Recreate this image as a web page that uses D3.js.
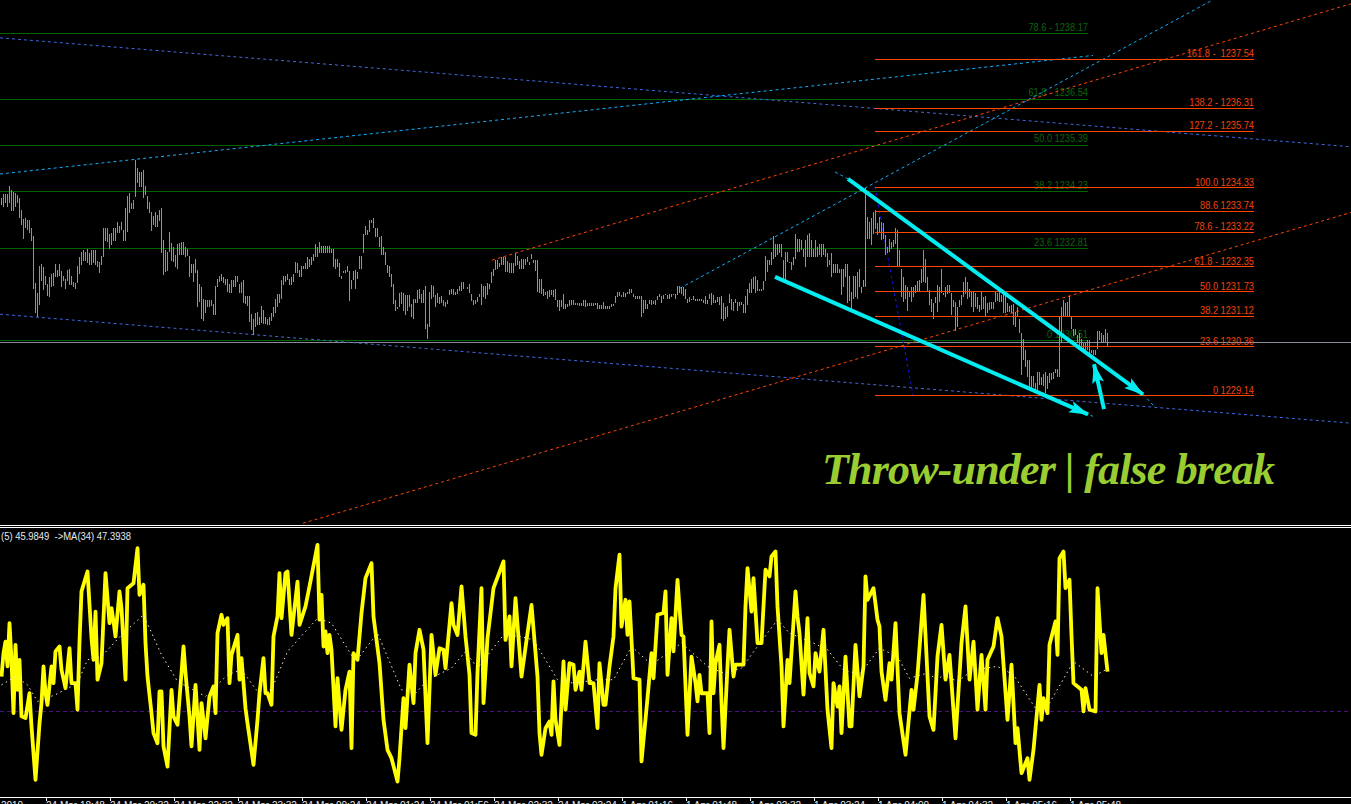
<!DOCTYPE html>
<html><head><meta charset="utf-8">
<style>html,body{margin:0;padding:0;background:#000;overflow:hidden}svg{display:block}</style>
<script src="https://cdn.jsdelivr.net/npm/d3@7/dist/d3.min.js"></script>
</head><body><div id="chart"></div>
<script>
// [high, low] per bar
const earlyBars=[
[1234.06,1233.9],[1234.17,1233.85],[1234.17,1233.94],[1234.17,1233.84],[1234.37,1233.94],[1234.27,1233.75],[1234.23,1233.75],[1234.2,1233.84],[1234.14,1233.95],[1234.06,1233.56],
[1233.77,1233.4],[1233.54,1233.05],[1233.56,1233.31],[1233.52,1233.27],[1233.52,1233.2],[1233.31,1233],[1233.12,1231.81],[1231.96,1231.2],[1231.71,1231.09],[1232.37,1231.4],
[1232.42,1232],[1232.35,1231.77],[1232.12,1231.9],[1231.92,1231.63],[1232.09,1231.6],[1232.17,1231.85],[1232.2,1231.87],[1232.42,1232.1],[1232.27,1232.09],[1232.42,1232.12],
[1232.25,1231.85],[1232.12,1232],[1232.06,1231.81],[1232.27,1232],[1232.31,1231.9],[1232.12,1231.9],[1231.98,1231.85],[1231.95,1231.81],[1232.37,1231.95],[1232.59,1232.17],
[1232.73,1232.4],[1232.77,1232.5],[1232.73,1232.5],[1232.81,1232.44],[1232.69,1232.4],[1232.77,1232.4],[1232.77,1232.44],[1232.77,1232.4],[1232.5,1232.34],[1232.48,1232.2],
[1232.62,1232.4],[1233.32,1232.6],[1233.32,1233],[1233.32,1232.98],[1233.17,1232.8],[1233.19,1232.9],[1233.32,1233],[1233.32,1233],[1233.48,1233.19],[1233.37,1233.19],
[1233.48,1233.27],[1233.27,1233],[1233.81,1233],[1234.12,1233.23],[1234.2,1233.69],[1233.94,1233.79],[1234.02,1233.8],[1235.02,1234.1],[1234.81,1234.44],[1234.71,1234.35],
[1234.73,1234.35],[1234.77,1234.06],[1234.37,1234.14],[1234.12,1233.79],[1233.98,1233.69],[1233.73,1233.25],[1233.62,1233.4],[1233.73,1233.34],[1233.65,1233.35],[1233.77,1233.5],
[1233.81,1232.69],[1233.02,1232.15],[1232.77,1232.23],[1232.73,1232.25],[1233.23,1232.73],[1232.96,1232.5],[1232.85,1232.48],[1232.65,1232.35],[1232.92,1232.29],[1232.94,1232.65],
[1232.98,1232.65],[1232.97,1232.65],[1232.85,1232.6],[1232.81,1232.62],[1232.62,1232.09],[1232.42,1232.19],[1232.42,1231.98],[1232.56,1232.19],[1232.27,1231.35],[1231.92,1231.48],
[1231.85,1231.04],[1231.56,1231],[1231.52,1231.2],[1231.52,1231.35],[1231.52,1231.35],[1231.52,1231.37],[1231.42,1231.15],[1231.87,1231.15],[1232.06,1231.85],[1232.12,1231.98],
[1232.17,1232],[1232.1,1231.94],[1232.06,1231.9],[1232.06,1231.73],[1231.92,1231.69],[1232.02,1231.7],[1232.02,1231.85],[1232.12,1231.84],[1232.12,1231.98],[1231.92,1231.7],
[1231.98,1231.69],[1232.02,1231.45],[1231.62,1231.42],[1231.62,1231.37],[1231.62,1230.98],[1231.17,1230.77],[1231.06,1230.65],[1231.19,1230.85],[1231.23,1230.9],[1231.1,1230.9],
[1231.37,1230.94],[1231.27,1230.92],[1231.1,1230.92],[1231.06,1230.9],[1231.1,1230.9],[1231.2,1231],[1231.34,1231.1],[1231.56,1231.19],[1231.67,1231.35],[1231.67,1231.44],
[1232.02,1231.54],[1232.12,1231.9],[1232.12,1231.98],[1232.17,1232.02],[1232.06,1231.9],[1232.09,1231.9],[1232.17,1231.98],[1232.47,1232.19],[1232.44,1232.2],[1232.27,1232.09],
[1232.37,1232.09],[1232.37,1232.29],[1232.44,1232.29],[1232.59,1232.31],[1232.56,1232.35],[1232.59,1232.4],[1232.67,1232.5],[1232.92,1232.6],[1232.85,1232.59],[1232.97,1232.69],
[1232.87,1232.69],[1232.87,1232.69],[1232.87,1232.69],[1232.87,1232.69],[1232.87,1232.69],[1232.81,1232.69],[1232.81,1232.34],[1232.56,1232.31],[1232.56,1232.35],[1232.45,1232.09],
[1232.12,1232.04],[1232.25,1232.19],[1232.27,1232.19],[1232.37,1232.23],[1232.25,1231.5],[1232.02,1231.79],[1232.25,1232.02],[1232.27,1231.81],[1232.23,1232.04],[1232.62,1232.29],
[1232.62,1232.29],[1233.17,1232.69],[1233.37,1233.15],[1233.27,1233.15],[1233.52,1233.23],[1233.52,1233.44],[1233.56,1233.31],[1233.31,1233.1],[1233.31,1233.1],[1233.09,1232.85],
[1233.12,1232.65],[1232.85,1232.65],[1232.73,1232.4],[1232.4,1232.19],[1232.37,1232.09],[1232.17,1231.85],[1231.92,1231.42],[1231.52,1231.25],[1231.35,1231.29],[1231.71,1231.35],
[1231.73,1231.42],[1231.71,1231.25],[1231.65,1231.15],[1231.65,1231.25],[1231.65,1231.35],[1231.42,1231.1],[1231.56,1231.06],[1231.56,1231.45],[1231.77,1231.45],[1231.79,1231.56],
[1231.67,1231.45],[1231.77,1231.45],[1231.87,1230.81],[1230.92,1230.54],[1231.73,1230.85],[1231.91,1231.56],[1231.87,1231.6],[1231.65,1231.34],[1231.69,1231.44],[1231.6,1231.42],
[1231.62,1231.45],[1231.52,1231.37],[1231.48,1231.35],[1231.52,1231.42],[1231.77,1231.65]];
const middleBars=[
[1231.81,1231.67],[1231.81,1231.65],[1231.73,1231.65],[1231.79,1231.67],[1231.87,1231.75],[1231.97,1231.75],[1231.97,1231.81],[1231.81,1231.79],[1231.85,1231.81],[1231.92,1231.7],
[1231.67,1231.5],[1231.52,1231.39],[1231.52,1231.42],[1231.59,1231.48],[1231.67,1231.59],[1231.92,1231.39],[1231.87,1231.6],[1231.87,1231.56],[1231.94,1231.65],[1231.92,1231.8],
[1232.23,1231.94],[1232.31,1232.12],[1232.52,1232.27],[1232.52,1232.31],[1232.45,1232.34],[1232.59,1232.39],[1232.6,1232.39],[1232.6,1232.23],[1232.5,1232.23],[1232.44,1232.2],
[1232.44,1232.2],[1232.44,1232.2],[1232.69,1232.37],[1232.62,1232.39],[1232.5,1232.31],[1232.54,1232.29],[1232.54,1232.31],[1232.54,1232.39],[1232.59,1232.48],[1232.48,1232.39],
[1232.67,1232.54],[1232.52,1232.45],[1232.52,1232.25],[1232.52,1231.73],[1232.06,1231.7],[1232.04,1231.67],[1231.81,1231.62],[1231.73,1231.65],[1231.75,1231.55],[1231.77,1231.6],
[1231.77,1231.65],[1231.77,1231.59],[1231.81,1231.52],[1231.52,1231.35],[1231.52,1231.25],[1231.52,1231.34],[1231.67,1231.31],[1231.42,1231.29],[1231.42,1231.35],[1231.52,1231.37],
[1231.52,1231.39],[1231.52,1231.39],[1231.45,1231.39],[1231.45,1231.39],[1231.44,1231.37],[1231.44,1231.37],[1231.52,1231.37],[1231.52,1231.35],[1231.45,1231.37],[1231.45,1231.37],
[1231.45,1231.37],[1231.45,1231.37],[1231.45,1231.39],[1231.45,1231.29],[1231.39,1231.31],[1231.39,1231.31],[1231.48,1231.29],[1231.37,1231.31],[1231.37,1231.31],[1231.37,1231.31],
[1231.42,1231.34],[1231.42,1231.37],[1231.62,1231.44],[1231.73,1231.59],[1231.73,1231.62],[1231.65,1231.59],[1231.73,1231.6],[1231.7,1231.6],[1231.73,1231.67],[1231.81,1231.67],
[1231.81,1231.69],[1231.67,1231.59],[1231.62,1231.54],[1231.62,1231.54],[1231.62,1231.54],[1231.62,1231.1],[1231.52,1231.2],[1231.52,1231.31],[1231.42,1231.29],[1231.52,1231.42],
[1231.52,1231.39],[1231.5,1231.42],[1231.52,1231.39],[1231.62,1231.52],[1231.67,1231.59],[1231.62,1231.44],[1231.65,1231.54],[1231.67,1231.65],[1231.65,1231.54],[1231.67,1231.56],
[1231.67,1231.59],[1231.67,1231.65],[1231.67,1231.54],[1231.87,1231.65],[1231.87,1231.7],[1231.84,1231.67],[1231.85,1231.62],[1231.81,1231.56],[1231.56,1231.44],[1231.6,1231.48],
[1231.56,1231.52],[1231.62,1231.52],[1231.56,1231.5],[1231.54,1231.5],[1231.54,1231.49],[1231.54,1231.49],[1231.52,1231.45],[1231.62,1231.42],[1231.52,1231.42],[1231.67,1231.54],
[1231.7,1231.39],[1231.65,1231.44],[1231.52,1231.45],[1231.59,1231.48],[1231.6,1231.39],[1231.62,1231.06],[1231.44,1231],[1231.34,1231.06],[1231.37,1231.1],[1231.67,1231.44],
[1231.56,1231.27],[1231.48,1231.25],[1231.56,1231.44],[1231.48,1231.25],[1231.48,1231.37],[1231.48,1231.39],[1231.42,1231.2],[1231.62,1231.2],[1231.81,1231.39],[1231.94,1231.69],
[1232.04,1231.7],[1232.1,1231.81],[1232.12,1231.7],[1232.02,1231.75],[1231.81,1231.75],[1231.81,1231.75],[1232,1231.77],[1232.62,1232],[1232.52,1232.23],[1232.52,1232.39],
[1232.73,1232.39],[1233.12,1232.56],[1232.92,1232.6],[1232.92,1232.65],[1232.92,1232.69],[1232.92,1232.6],[1232.52,1232.02],[1232.73,1232.02],[1232.73,1232.48],[1232.48,1232.44],
[1232.48,1232.27],[1232.59,1232.39],[1233.17,1232.56],[1233.06,1232.73],[1233.06,1232.73],[1233.02,1232.77],[1232.81,1232.6],[1233.02,1232.35],[1233.15,1232.6],[1233.2,1232.59],
[1233.02,1232.6],[1232.81,1232.6],[1233.02,1232.6],[1232.85,1232.6],[1232.92,1232.65],[1232.92,1232.59],[1232.92,1232.65],[1232.81,1232.6],[1232.69,1232.35],[1232.52,1232.39],
[1232.69,1232.1],[1232.42,1232.19],[1232.42,1232.19],[1232.42,1232.19],[1232.29,1232.19],[1232.29,1231.65],[1232.31,1231.85],[1232.42,1232.09],[1232.42,1231.44],[1232.12,1231.5],
[1231.73,1231.31],[1232.12,1231.56],[1232.12,1231.6],[1232.23,1231.56],[1232.31,1231.85],[1231.85,1231.7],[1232.02,1231.85]];
const lateBars=[
[1234.31,1231.85],[1233.6,1233.06],[1233.48,1233.06],[1233.56,1232.9],[1233.73,1233.17],[1233.77,1233.29],[1233.44,1233.15],[1233.6,1233.19],[1233.48,1233.02],[1233.44,1233.06],
[1233.15,1232.64],[1232.85,1232.69],[1233.06,1232.73],[1232.98,1232.81],[1233.02,1232.85],[1233.31,1232.92],[1233.27,1232.35],[1232.77,1232.35],[1232.31,1231.6],[1232.1,1231.48],
[1231.9,1231.56],[1231.85,1231.25],[1231.73,1231.6],[1231.84,1231.48],[1231.84,1231.6],[1231.9,1231.69],[1232,1231.73],[1232.02,1231.73],[1232.31,1231.94],[1232.77,1231.98],
[1232.56,1231.94],[1232.1,1231.73],[1231.77,1231.4],[1231.56,1231.23],[1231.44,1231.06],[1231.6,1231.44],[1231.9,1231.23],[1231.85,1231.48],[1232.31,1231.7],[1231.7,1231.65],
[1231.84,1231.6],[1231.9,1231.67],[1231.9,1231.69],[1231.7,1231.15],[1231.52,1231.35],[1231.48,1230.75],[1231.35,1230.85],[1231.52,1231.35],[1231.65,1231.4],[1231.98,1231.6],
[1232.1,1231.67],[1231.98,1231.56],[1231.81,1231.6],[1231.73,1231.35],[1231.73,1231.23],[1231.69,1231.35],[1231.6,1231.31],[1231.39,1231.23],[1231.73,1231.27],[1231.6,1231.31],
[1231.62,1231.1],[1231.44,1231.19],[1231.48,1231.27],[1231.48,1231.29],[1231.48,1231.29],[1231.73,1231.48],[1231.7,1231.5],[1231.73,1231.48],[1231.65,1231.48],[1231.69,1231.19],
[1231.62,1231.2],[1231.44,1231.23],[1231.37,1231.23],[1231.39,1231.19],[1231.42,1230.9],[1231.23,1230.85],[1231.35,1231.1],[1231.06,1230.69],[1230.69,1229.65],[1230.56,1230.02],
[1230.27,1229.84],[1230.02,1229.6],[1230.02,1229.35],[1229.62,1229.27],[1229.62,1229.35],[1229.44,1229.27],[1229.73,1229.2],[1229.73,1229.4],[1229.6,1229.4],[1229.67,1229.37],
[1229.73,1229.19],[1229.62,1229.31],[1229.69,1229.44],[1229.71,1229.52],[1229.73,1229.56],[1229.81,1229.7],[1229.81,1229.6],[1231.1,1229.6],[1231.35,1230.44],[1231.52,1231.1],
[1231.44,1231.1],[1231.48,1231.1],[1231.62,1231.1],[1231.1,1230.81],[1230.81,1230.62],[1230.81,1230.65],[1230.65,1230.44],[1230.69,1230.35],[1230.56,1230.35],[1230.45,1230.23],
[1230.44,1230.27],[1230.52,1230.27],[1230.52,1230.17],[1230.27,1230.19],[1230.27,1230.15],[1230.27,1230.15],[1230.75,1230.31],[1230.75,1230.52],[1230.7,1230.48],[1230.65,1230.44],
[1230.81,1230.44],[1230.69,1230.37]];
// [bar index, value]
const rsiPoints=[
[0,44.1],[1,53.6],[2,58.3],[3,48.2],[4,65.8],[5,50.9],[6,29.2],[7,57],[8,38.7],[9,50.9],[10,27.9],[12,27.2],[14,37.3],[15,23.8],[17,2.1],[19,25.1],[20,33.3],[21,48.2],[22,37.3],[23,32.6],[25,48.2],[26,41.4],[27,54.3],[29,56.3],[30,46.8],[32,39.4],[34,55.6],[35,41.4],[37,41.4],[38,30.6],[39,58.3],[40,78.7],[43,86.8],[45,59.7],[46,50.9],[47,70.5],[48,42.8],[50,49.5],[52,86.1],[54,65.8],[55,71.9],[56,66.5],[57,60.4],[59,78.7],[60,71.9],[62,42.8],[63,80],[66,82],[68,96.3],[69,77.3],[71,81.4],[72,57.7],[73,44.1],[75,29.2],[76,21.1],[78,17],[79,38],[80,38],[81,15.7],[83,7.5],[85,38.7],[86,27.9],[88,24.5],[90,45.5],[91,56.3],[92,45.5],[94,27.9],[95,15.7],[97,40.7],[99,14.3],[100,33.3],[102,19],[104,36],[106,40.1],[107,29.2],[108,61.7],[110,69.2],[111,65.1],[113,67.8],[114,41.4],[115,52.9],[118,61],[119,42.8],[120,51.6],[122,31.2],[123,25.1],[126,8.2],[128,26.5],[129,37.3],[131,51.6],[132,37.3],[133,37.3],[135,32.6],[136,60.4],[138,68.5],[139,86.1],[140,67.8],[142,86.1],[143,86.8],[145,61],[148,82.7],[149,65.1],[152,72.6],[154,80.7],[158,97.6],[159,67.2],[160,77.3],[161,56.3],[162,62.4],[163,53.6],[164,61],[165,55],[167,23.8],[168,43.4],[170,22.4],[172,38.7],[174,46.1],[175,15],[176,53.6],[178,50.9],[180,69.9],[182,84.1],[185,90.2],[186,68.5],[189,49.5],[191,26.5],[193,14.3],[195,10.9],[198,1.4],[199,10.9],[201,35.3],[202,23.1],[204,48.9],[206,33.3],[207,53.6],[209,63.1],[211,55],[213,17],[215,61],[217,44.8],[219,55.6],[221,55],[222,47.5],[225,73.9],
[226,65.1],[228,61],[230,80.7],[232,60.4],[234,44.8],[235,21.1],[237,20.4],[238,45.5],[240,80],[241,33.3],[243,59.7],[246,80],[251,90.9],[252,59],[254,68.5],[255,48.2],[257,76],[260,44.1],[263,61.7],[265,73.2],[268,44.1],[269,21.1],[270,12.3],[272,23.1],[274,25.8],[275,20.4],[276,42.1],[277,26.5],[279,16.3],[281,50.2],[282,30.6],[284,49.5],[286,48.9],[287,38.7],[289,46.1],[290,38.7],[292,58.3],[294,41.4],[296,41.4],[298,23.1],[299,49.5],[301,32.6],[302,32.6],[304,48.2],[306,60.4],[307,80],[309,93.6],[310,64.4],[312,75.3],[313,61],[314,74.6],[316,43.4],[319,42.8],[320,9.6],[323,35.3],[325,53.6],[326,43.4],[328,69.2],[331,69.9],[332,78.7],[333,44.8],[335,67.8],[336,54.3],[338,83.4],[340,61],[341,60.4],[343,20.4],[345,52.2],[347,41.4],[348,34],[349,44.8],[350,37.3],[353,37.3],[354,21.1],[355,66.5],[356,37.3],[357,49.5],[359,57],[360,34],[361,15],[363,48.2],[364,63.1],[366,44.1],[367,48.9],[371,48.9],[372,72.6],[373,88.2],[375,70.5],[376,84.1],[378,57.7],[380,57.7],[382,87.5],[384,84.8],[385,92.9],[387,94.9],[388,72.6],[390,48.2],[391,23.8],[393,50.9],[394,41.4],
[397,78.7],[398,68.5],[399,61.7],[401,36.7],[403,67.8],[404,45.5],[406,40.1],[407,53.6],[409,46.1],[411,63.1],[413,30.6],[415,15],[416,41.4],[418,31.9],[419,40.1],[420,21.1],[422,52.2],[424,23.8],[425,23.8],[427,57],[429,36],[431,48.2],[432,84.8],[433,75.3],[436,80],[438,67.2],[439,64.4],[440,46.1],[442,34.6],[444,49.5],[445,42.8],[447,65.8],[449,29.2],[452,12.3],[455,38.7],[456,30.6],[458,44.8],[461,77.3],[464,27.9],[466,22.4],[468,52.2],[470,65.1],[472,42.8],[474,52.9],[477,19],[480,57.7],[482,72.6],[484,42.8],[486,58.3],[488,30.6],[490,52.9],[492,30.6],[493,50.9],[496,56.3],[498,67.8],[500,60.4],[503,26.5],[505,48.9],[507,17],[508,23.1],[510,4.8],[513,10.9],[514,2.1],[516,14.3],[519,40.7],[520,26.5],[521,35.3],[523,29.2],[524,57],[527,66.5],[528,52.9],[529,92.2],[531,94.9],[532,80],[534,83.4],[535,61],[536,41.4],[540,38.7],[541,29.9],[542,39.4],[544,30.6],[547,29.9],[548,80],[550,53.6],[551,61],[553,46.1]];
const maPoints=[
[0,40.7],[7,44.1],[13,40.7],[18,34],[27,36.7],[38,41.4],[43,50.9],[50,52.2],[60,61],[71,69.2],[80,52.9],[88,42.1],[102,36],[113,44.8],[120,46.8],[128,38],[135,38.7],[143,54.3],[158,67.8],[165,65.8],[177,50.2],[188,61.7],[200,38.7],[207,37.3],[213,42.8],[225,47.5],
[232,54.3],[238,47.5],[251,61],[259,60.4],[266,59],[278,42.8],[286,41.4],[298,42.8],[306,42.8],[315,56.3],[325,48.9],[340,57.7],[353,48.2],[361,45.5],[370,47.5],[378,56.3],[388,67.2],
[394,61.7],[406,57.7],[413,55],[421,46.8],[429,44.8],[439,55.6],[448,52.2],[454,43.4],[463,45.5],[468,42.8],[471,44.8],[478,42.1],[486,46.8],[498,48.2],[506,44.8],[518,29.9],[524,33.3],[536,50.2],[546,44.1],[552,46.8]];
const greenFibLevels=[1238.17,1236.54,1235.39,1234.23,1232.81,1230.51];
const greenFibLabels=["78.6 - 1238.17","61.8 - 1236.54","50.0 1235.39","38.2 1234.23","23.6 1232.81","0 1230.51"];
const redFibLevels=[1237.54,1236.31,1235.74,1234.33,1233.74,1233.22,1232.35,1231.73,1231.12,1230.36,1229.14];
const redFibLabels=["161.8 -  1237.54","138.2 - 1236.31","127.2 - 1235.74","100.0 1234.33","88.6 1233.74","78.6 - 1233.22","61.8 - 1232.35","50.0 1231.73","38.2 1231.12","23.6 1230.36","0 1229.14"];
const currentPrice=1230.465;
const rsiLevel=30;
// trend lines: [bar0, price0, bar1, price1]
const royalLines=[[-0.75,1238.07,674.75,1235.35],[-0.75,1231.17,674.75,1228.45]];
const skyLines=[[-0.75,1234.67,545.75,1237.63],[339.25,1231.82,605.75,1239.02],[570.75,1229.17,576.75,1228.85],[541.75,1228.7,545.75,1228.62],[416.75,1234.72,423.25,1234.55]];
const redLines=[[150.75,1225.95,674.75,1233.71],[245.25,1232.52,674.75,1238.92]];
const navyLines=[[436.75,1234.35,455.75,1229.15]];
const arrowLines=[[423.25,1234.55,570.75,1229.17],[386.75,1232.1,543.25,1228.67],[551.25,1228.8,546.25,1229.92]];
const timeTickBars=[22,54,86,118,150,182,214,246,278,310,342,374,406,438,470,502,534];
const timeTickLabels=["24 Mar 18:48","24 Mar 20:32","24 Mar 22:32","24 Mar 23:32","24 Mar 00:24","24 Mar 01:24","24 Mar 01:56","24 Mar 02:32","24 Mar 03:24","1 Apr 01:16","1 Apr 01:48","1 Apr 02:32","1 Apr 03:24","1 Apr 04:00","1 Apr 04:32","1 Apr 05:16","1 Apr 05:48"];

const W=1351,H=804;
const svg=d3.select("#chart").append("svg").attr("width",W).attr("height",H).style("background","#000");
const defs=svg.append("defs");
defs.append("marker").attr("id","head").attr("markerUnits","userSpaceOnUse").attr("viewBox","0 0 20 14").attr("refX",19).attr("refY",7)
 .attr("markerWidth",20).attr("markerHeight",14).attr("orient","auto").append("path").attr("d","M0,1L20,7L0,13L4,7Z").attr("fill","#00eef2");

const barsAll=earlyBars.concat(middleBars,lateBars);
const x=d3.scaleLinear().domain([0,553]).range([1.5,1107.5]);
const y=d3.scaleLinear().domain([1229.14,1238.14]).range([395.5,35.05]);
const yRsi=d3.scaleLinear().domain([0,100]).range([785,539]);

// narrow the labels to the reference's Tahoma-like proportions
function narrow(sel,k){
 sel.each(function(){
  this.setAttribute("textLength",this.getComputedTextLength()*k);
  this.setAttribute("lengthAdjust","spacingAndGlyphs");
 });
}
function hLines(g,levels,x0,x1,color,w){
 g.selectAll(null).data(levels).enter().append("line")
  .attr("x1",x0).attr("x2",x1).attr("y1",d=>Math.floor(y(d))+.5).attr("y2",d=>Math.floor(y(d))+.5)
  .attr("stroke",color).attr("stroke-width",w||1).attr("shape-rendering","crispEdges");
}
function trend(g,rows,color,dash){
 g.selectAll(null).data(rows).enter().append("line")
  .attr("x1",d=>x(d[0])).attr("y1",d=>y(d[1])).attr("x2",d=>x(d[2])).attr("y2",d=>y(d[3]))
  .attr("stroke",color).attr("stroke-width",1).attr("stroke-dasharray",dash||"3 3");
}
const upper=svg.append("g");
hLines(upper,greenFibLevels,0,1088,"#006400");
upper.selectAll(null).data(greenFibLabels).enter().append("text")
 .attr("x",1088).attr("y",(d,i)=>y(greenFibLevels[i])-3).attr("text-anchor","end")
 .attr("font-family","Liberation Sans").attr("font-size",10.5).attr("fill","#0e640e").text(d=>d)
 .call(narrow,0.88);
hLines(upper,[currentPrice],0,W,"#868c9c");
trend(upper,royalLines,"#4169e1");
trend(upper,skyLines,"#10b0ff");
trend(upper,redLines,"#ff4500");
trend(upper,navyLines,"#1212e8");

upper.append("g").selectAll("line").data(barsAll).enter().append("line")
 .attr("x1",(d,i)=>Math.floor(x(i))+.5).attr("x2",(d,i)=>Math.floor(x(i))+.5)
 .attr("y1",d=>y(d[0])).attr("y2",d=>y(d[1]))
 .attr("stroke","#2fdc1f").attr("stroke-width",1).attr("shape-rendering","crispEdges");

hLines(upper,redFibLevels,875,1254,"#ff4500");
upper.selectAll(null).data(redFibLabels).enter().append("text")
 .attr("x",1254).attr("y",(d,i)=>y(redFibLevels[i])-2).attr("text-anchor","end")
 .style("white-space","pre")
 .attr("font-family","Liberation Sans").attr("font-size",10.5).attr("fill","#f0440c").text(d=>d)
 .call(narrow,0.88);

upper.selectAll(null).data(arrowLines).enter().append("line")
 .attr("x1",d=>x(d[0])).attr("y1",d=>y(d[1])).attr("x2",d=>x(d[2])).attr("y2",d=>y(d[3]))
 .attr("stroke","#00eef2").attr("stroke-width",4).attr("marker-end","url(#head)");

svg.append("text").attr("x",822).attr("y",484).attr("textLength",453).attr("lengthAdjust","spacing")
 .attr("font-family","Liberation Serif").attr("font-style","italic").attr("font-weight","bold").attr("font-size",44)
 .attr("fill","#9acd32").text("Throw-under | false break");

// panel separators
svg.selectAll(null).data([525,527]).enter().append("line").attr("x1",0).attr("x2",W).attr("y1",d=>d+.5).attr("y2",d=>d+.5)
 .attr("stroke","#fff").attr("shape-rendering","crispEdges");

// indicator panel
const panel=svg.append("g");
panel.append("line").attr("x1",0).attr("x2",W).attr("y1",Math.floor(yRsi(rsiLevel))+.5).attr("y2",Math.floor(yRsi(rsiLevel))+.5)
 .attr("stroke","#4b0f82").attr("stroke-dasharray","4 3").attr("shape-rendering","crispEdges");
const rsiLine=d3.line().x(d=>x(d[0])).y(d=>yRsi(d[1]));
panel.append("path").datum(rsiPoints).attr("d",rsiLine).attr("fill","none").attr("stroke","#ffff00").attr("stroke-width",3.8).attr("stroke-linejoin","round");
panel.append("path").datum(maPoints).attr("d",rsiLine).attr("fill","none").attr("stroke","#f2ead8").attr("stroke-width",1).attr("stroke-dasharray","1.5 3.5");
panel.append("text").attr("x",1).attr("y",540).style("white-space","pre")
 .attr("font-family","Liberation Sans").attr("font-size",10.5).attr("fill","#e4e8ee").text("(5) 45.9849  ->MA(34) 47.3938")
 .call(narrow,0.9);

// time axis
const axis=d3.axisBottom(x).tickValues(timeTickBars).tickSize(3).tickSizeOuter(0).tickFormat((d,i)=>timeTickLabels[i]);
const ax=svg.append("g").attr("transform","translate(0,797.5)").call(axis);
ax.select(".domain").remove();
ax.append("line").attr("x1",0).attr("x2",W).attr("stroke","#fff").attr("shape-rendering","crispEdges");
ax.selectAll(".tick line").attr("stroke","#fff").attr("shape-rendering","crispEdges");
ax.selectAll(".tick text").attr("text-anchor","start").attr("x",0).attr("y",4).attr("dy","0.71em").attr("fill","#e8e8e8")
 .attr("font-family","Liberation Sans").attr("font-size",10);
ax.append("text").attr("x",12).attr("y",4).attr("dy","0.71em").attr("fill","#e8e8e8").attr("font-family","Liberation Sans").attr("font-size",10).text("2010");
</script>
</body></html>
